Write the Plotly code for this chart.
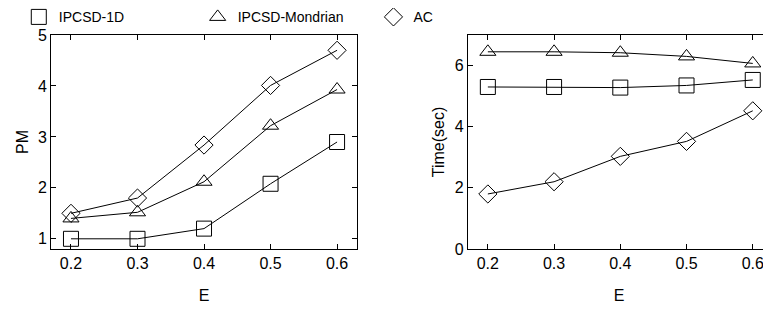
import plotly.graph_objects as go

E = [0.2, 0.3, 0.4, 0.5, 0.6]
series_names = ["IPCSD-1D", "IPCSD-Mondrian", "AC"]
pm_1d = [1.0, 1.0, 1.2, 2.08, 2.9]
pm_mondrian = [1.4, 1.52, 2.12, 3.22, 3.93]
pm_ac = [1.5, 1.8, 2.84, 4.01, 4.7]
time_1d = [5.3, 5.3, 5.28, 5.35, 5.53]
time_mondrian = [6.45, 6.45, 6.42, 6.3, 6.07]
time_ac = [1.8, 2.2, 3.03, 3.52, 4.52]

symbols = ["square-open", "triangle-up-open", "diamond-open"]
sizes = [15, 14, 14]
legends = ["legend", "legend2", "legend3"]

fig = go.Figure()
for i, (name, pm, tm) in enumerate(zip(series_names,
                                        [pm_1d, pm_mondrian, pm_ac],
                                        [time_1d, time_mondrian, time_ac])):
    mk = dict(symbol=symbols[i], size=sizes[i], color="black", line=dict(width=1, color="black"))
    fig.add_trace(go.Scatter(x=E, y=pm, mode="lines+markers", name=name,
                             line=dict(color="black", width=1), marker=mk,
                             showlegend=False, xaxis="x", yaxis="y"))
    fig.add_trace(go.Scatter(x=E, y=tm, mode="lines+markers", name=name,
                             line=dict(color="black", width=1), marker=mk,
                             showlegend=False, xaxis="x2", yaxis="y2"))
    # legend-only trace
    fig.add_trace(go.Scatter(x=[None], y=[None], mode="markers", name=name,
                             marker=mk, legend=legends[i], xaxis="x", yaxis="y"))

font = dict(family="Liberation Sans, Arial, sans-serif", size=16, color="black")
leg_font = dict(family="Liberation Sans, Arial, sans-serif", size=14, color="black")
axis_common = dict(showline=True, linecolor="black", linewidth=1, mirror="ticks",
                   ticks="inside", ticklen=5, tickcolor="black", tickwidth=1,
                   showgrid=False, zeroline=False, tickfont=font)

leg_common = dict(orientation="h", bgcolor="rgba(0,0,0,0)", font=leg_font,
                  xanchor="left", yanchor="middle", y=0.97, itemwidth=30,
                  tracegroupgap=0)

fig.update_layout(
    width=771, height=310,
    margin=dict(l=0, r=0, t=0, b=0, autoexpand=False),
    paper_bgcolor="white", plot_bgcolor="white",
    font=font,
    xaxis=dict(domain=[0.0558, 0.4527], range=[0.17, 0.63], tickvals=E,
               ticktext=["0.2", "0.3", "0.4", "0.5", "0.6"],
               title=dict(text="E", font=font, standoff=18), anchor="y", **axis_common),
    yaxis=dict(domain=[0.2226, 0.9129], range=[0.8, 5.0], tickvals=[1, 2, 3, 4, 5],
               title=dict(text="PM", font=font, standoff=5), anchor="x", **axis_common),
    xaxis2=dict(domain=[0.5966, 0.9883], range=[0.17, 0.626], tickvals=E,
                ticktext=["0.2", "0.3", "0.4", "0.5", "0.6"],
                title=dict(text="E", font=font, standoff=18), anchor="y2", **axis_common),
    yaxis2=dict(domain=[0.2226, 0.9129], range=[0, 7.0], tickvals=[0, 2, 4, 6],
                title=dict(text="Time(sec)", font=font, standoff=6), anchor="x2", **axis_common),
    legend=dict(x=0.014, **leg_common),
    legend2=dict(x=0.246, **leg_common),
    legend3=dict(x=0.474, **leg_common),
)

fig.write_html("out.html")
